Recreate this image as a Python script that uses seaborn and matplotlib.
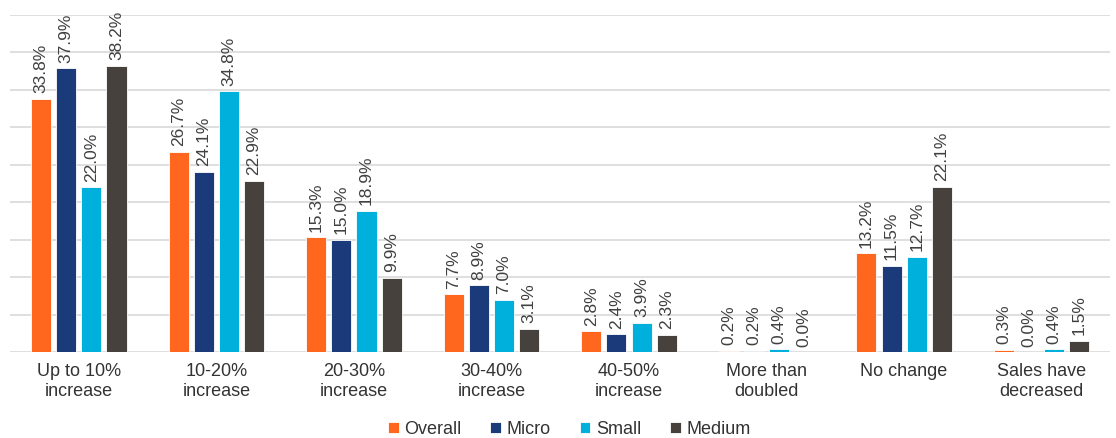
import matplotlib
matplotlib.use("Agg")
import matplotlib.pyplot as plt
import seaborn as sns
import pandas as pd

categories = ["Up to 10%\nincrease", "10-20%\nincrease", "20-30%\nincrease", "30-40%\nincrease",
              "40-50%\nincrease", "More than\ndoubled", "No change", "Sales have\ndecreased"]
series = ["Overall", "Micro", "Small", "Medium"]
overall = [33.8, 26.7, 15.3, 7.7, 2.8, 0.2, 13.2, 0.3]
micro = [37.9, 24.1, 15.0, 8.9, 2.4, 0.2, 11.5, 0.0]
small = [22.0, 34.8, 18.9, 7.0, 3.9, 0.4, 12.7, 0.4]
medium = [38.2, 22.9, 9.9, 3.1, 2.3, 0.0, 22.1, 1.5]
colors = ["#FF671F", "#1B3A7A", "#00B0DC", "#46413D"]

rows = []
for name, vals in zip(series, [overall, micro, small, medium]):
    for cat, v in zip(categories, vals):
        rows.append({"category": cat, "segment": name, "value": v})
df = pd.DataFrame(rows)

sns.set_style("white")
plt.rcParams["font.family"] = ["Liberation Sans", "DejaVu Sans"]

fig = plt.figure(figsize=(11.16, 4.38), dpi=100)
ax = fig.add_axes([0.009, 0.196, 0.986, 0.77])

sns.barplot(data=df, x="category", y="value", hue="segment", hue_order=series,
            order=categories, palette=colors, saturation=1, width=0.73, gap=0.2,
            edgecolor="white", linewidth=0.6, ax=ax, legend=True)

for cont in ax.containers:
    ax.bar_label(cont, labels=[f"{b.get_height():.1f}%" for b in cont],
                 rotation=90, padding=4, fontsize=12.5, color="#404040")

ax.set_ylim(0, 45)
ax.set_yticks(range(0, 50, 5))
ax.set_yticklabels([])
ax.yaxis.grid(True, color="#D9D9D9", linewidth=1.2)
ax.set_axisbelow(True)
ax.tick_params(axis="both", length=0)
ax.tick_params(axis="x", labelsize=13, colors="#333333", pad=8)
ax.set_xlabel("")
ax.set_ylabel("")
for s in ax.spines.values():
    s.set_visible(False)
ax.set_xlim(-0.5, len(categories) - 0.5)

handles, labels = ax.get_legend_handles_labels()
ax.legend_.remove()
fig.legend(handles, labels, loc="center", bbox_to_anchor=(0.51, 0.02), ncol=4,
           frameon=False, fontsize=13, handlelength=0.6, handleheight=0.6,
           handletextpad=0.3, columnspacing=1.6, labelcolor="#333333")

fig.savefig("out.png", dpi=100)
